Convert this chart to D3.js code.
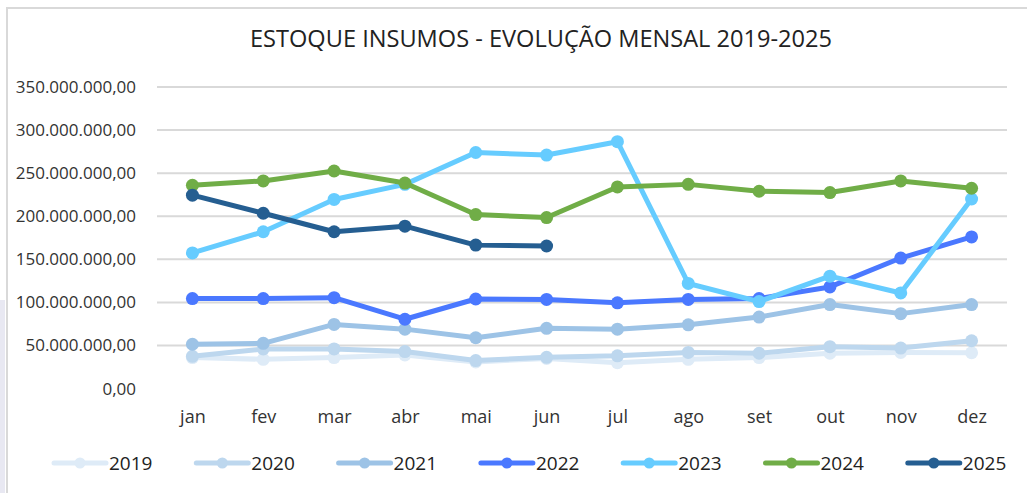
<!DOCTYPE html>
<html>
<head lang="pt">
  <title>Estoque insumos</title>
  <script src="https://d3js.org/d3.v7.min.js" charset="utf-8"></script>
  <style>
    body { margin: 0; background: #fff; }
  </style>
</head>
<body>
  <script>
    // months and yearly series, values in millions of R$
    var months = ["jan", "fev", "mar", "abr", "mai", "jun", "jul", "ago", "set", "out", "nov", "dez"];
    var years = ["2019", "2020", "2021", "2022", "2023", "2024", "2025"];
    var yearColors = ["#DEEBF7", "#BDD7EE", "#9DC3E6", "#4A78FF", "#66CCFF", "#70AD47", "#255E91"];

    var v2019 = [36, 34, 36, 39, 31, 35, 30, 34, 36, 41, 42, 41.6];
    var v2020 = [37.5, 46, 46, 43, 32.5, 36.3, 38, 42, 41, 48.6, 47, 55.5];
    var v2021 = [51.5, 52.5, 74.5, 69, 59, 70, 69, 74, 83, 97.5, 87, 97.5];
    var v2022 = [104.5, 104.5, 105.5, 80.5, 104, 103.5, 99.5, 103.5, 104.5, 118, 151.5, 176];
    var v2023 = [157.5, 182, 219.5, 237, 274, 271, 286.5, 122, 101, 130.5, 111, 220];
    var v2024 = [236, 241, 252.5, 238.5, 202, 198.5, 234, 237, 229, 227.5, 241, 232.5];
    var v2025 = [224.5, 203.5, 182, 188.5, 166.5, 165.5];

    var yTicks = [0, 50, 100, 150, 200, 250, 300, 350];
    var title = "ESTOQUE INSUMOS - EVOLUÇÃO MENSAL 2019-2025";

    var seriesValues = [v2019, v2020, v2021, v2022, v2023, v2024, v2025];
    var series = years.map(function(y, i) {
      return { name: y, color: yearColors[i], values: seriesValues[i] };
    });

    var width = 1027;
    var height = 493;

    var svg = d3.select("body")
      .append("svg")
      .attr("width", width)
      .attr("height", height);

    // faint strip at left edge and chart frame
    svg.append("rect")
      .attr("x", 0).attr("y", 300)
      .attr("width", 5).attr("height", 193)
      .style("fill", "#e8e8f2");
    svg.append("path")
      .attr("d", "M7," + height + "V8H" + width)
      .style("fill", "none")
      .style("stroke", "#d9d9d9")
      .style("stroke-width", 2);

    var x = d3.scalePoint()
      .domain(months)
      .range([157, 1007])
      .padding(0.5);

    var y = d3.scaleLinear()
      .domain([0, 350])
      .range([388.6, 87]);

    var ptBR = d3.formatLocale({ decimal: ",", thousands: ".", grouping: [3], currency: ["R$", ""] });
    var fmt = ptBR.format(",.2f");

    svg.append("text")
      .attr("x", 541)
      .attr("y", 47)
      .attr("text-anchor", "middle")
      .attr("textLength", 582)
      .attr("lengthAdjust", "spacingAndGlyphs")
      .style("font-family", "'Open Sans', sans-serif")
      .style("font-size", "23px")
      .style("fill", "#222")
      .text(title);

    // gridlines
    svg.append("g")
      .selectAll("line")
      .data(yTicks.filter(function(d) { return d > 0; }))
      .enter().append("line")
        .attr("x1", 157)
        .attr("x2", 1007)
        .attr("y1", function(d) { return y(d); })
        .attr("y2", function(d) { return y(d); })
        .style("stroke", "#d9d9d9")
        .style("stroke-width", 2);

    var yAxis = svg.append("g")
      .attr("transform", "translate(141,0)")
      .call(d3.axisLeft(y).tickValues(yTicks).tickSize(0).tickPadding(5)
        .tickFormat(function(d) { return fmt(d * 1e6); }));
    yAxis.select(".domain").remove();
    yAxis.selectAll("text")
      .style("font-family", "'Open Sans', sans-serif")
      .style("font-size", "17px")
      .style("fill", "#333");

    var xAxis = svg.append("g")
      .attr("transform", "translate(0,405)")
      .call(d3.axisBottom(x).tickSize(0).tickPadding(0));
    xAxis.select(".domain").remove();
    xAxis.selectAll("text")
      .attr("dy", "0")
      .attr("y", 18)
      .style("font-family", "'Open Sans', sans-serif")
      .style("font-size", "18px")
      .style("fill", "#333");

    var line = d3.line()
      .x(function(d, i) { return x(months[i]); })
      .y(function(d) { return y(d); });

    var g = svg.append("g")
      .selectAll("g")
      .data(series)
      .enter().append("g");

    g.append("path")
      .attr("d", function(d) { return line(d.values); })
      .style("fill", "none")
      .style("stroke", function(d) { return d.color; })
      .style("stroke-width", 5)
      .style("stroke-linejoin", "round");

    g.each(function(s) {
      d3.select(this).selectAll("circle")
        .data(s.values)
        .enter().append("circle")
          .attr("cx", function(d, i) { return x(months[i]); })
          .attr("cy", function(d) { return y(d); })
          .attr("r", 6.5)
          .style("fill", s.color);
    });

    // legend
    var legend = svg.append("g")
      .selectAll("g")
      .data(series)
      .enter().append("g")
        .attr("transform", function(d, i) { return "translate(" + (54 + i * 142.3) + ",463)"; });

    legend.append("line")
      .attr("x1", 0).attr("x2", 52)
      .style("stroke", function(d) { return d.color; })
      .style("stroke-width", 5)
      .style("stroke-linecap", "round");
    legend.append("circle")
      .attr("cx", 26)
      .attr("r", 5.5)
      .style("fill", function(d) { return d.color; });
    legend.append("text")
      .attr("x", 55)
      .attr("dy", "0.35em")
      .style("font-family", "'Open Sans', sans-serif")
      .style("font-size", "19px")
      .style("fill", "#222")
      .text(function(d) { return d.name; });
  </script>
</body>
</html>
